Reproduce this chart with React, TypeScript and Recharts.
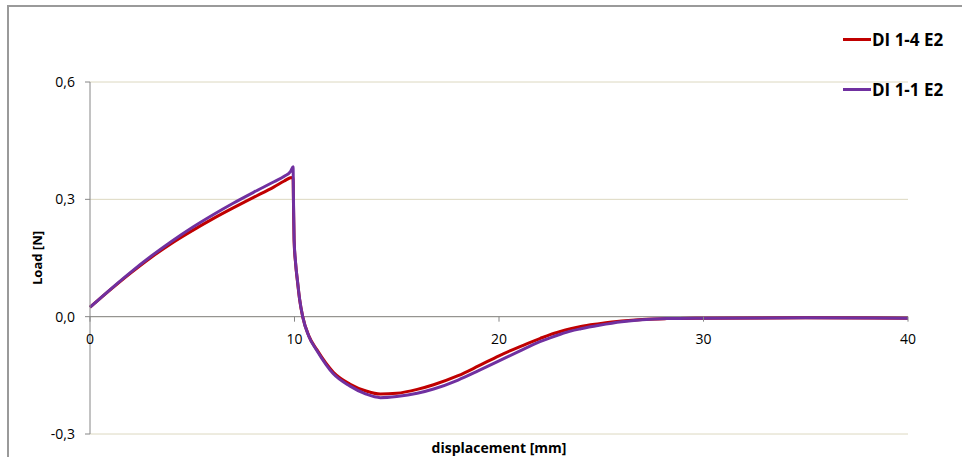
import React from 'react';
import {
  LineChart,
  Line,
  XAxis,
  YAxis,
  CartesianGrid,
  ReferenceLine,
  ReferenceDot,
} from 'recharts';

// displacement [mm]
const disp = [
  0, 1, 2, 3, 4, 5, 6, 7, 8, 9, 9.5, 9.8, 9.93, 9.95, 9.98, 10.05, 10.15, 10.25, 10.4, 10.7,
  11.1, 11.9, 12.7, 13.5, 14.2, 15, 16, 16.8, 18, 19, 20, 21, 22, 22.5, 23, 23.5, 24, 24.9, 26,
  27, 28.2, 30, 35, 40,
];

// DI 1-4 E2
const loadE14 = [
  0.024, 0.069, 0.112, 0.152, 0.188, 0.22, 0.25, 0.278, 0.305, 0.332, 0.347, 0.355, 0.356,
  0.29, 0.195, 0.138, 0.088, 0.044, 0.0, -0.049, -0.085, -0.142, -0.172, -0.19, -0.198, -0.196,
  -0.186, -0.174, -0.151, -0.126, -0.1, -0.077, -0.056, -0.046, -0.038, -0.031, -0.025, -0.018,
  -0.011, -0.007, -0.005, -0.004, -0.003, -0.004,
];

// DI 1-1 E2
const loadE11 = [
  0.024, 0.07, 0.114, 0.155, 0.193, 0.228, 0.26, 0.29, 0.318, 0.345, 0.359, 0.371, 0.383,
  0.3, 0.2, 0.14, 0.09, 0.045, 0.0, -0.05, -0.087, -0.146, -0.177, -0.198, -0.207, -0.204,
  -0.196, -0.185, -0.162, -0.138, -0.113, -0.088, -0.064, -0.054, -0.045, -0.037, -0.031,
  -0.022, -0.013, -0.008, -0.005, -0.004, -0.003, -0.004,
];

const xTicks = [0, 10, 20, 30, 40];
const yTicks = [-0.3, 0, 0.3, 0.6];

const series = [
  { key: 'e14', name: 'DI 1-4 E2', color: '#c00000' },
  { key: 'e11', name: 'DI 1-1 E2', color: '#7030a0' },
];

const data = disp.map((d, i) => ({ d, e14: loadE14[i], e11: loadE11[i] }));

const FONT = '"Open Sans", Lato, sans-serif';

const XTickMark = (props: any) => {
  const { cx, cy, payload } = props;
  return (
    <g>
      <line x1={cx} y1={cy} x2={cx} y2={cy + 5} stroke="#868686" strokeWidth={1} />
      <text x={cx} y={cy + 27} textAnchor="middle" fontSize={14} fill="#000" fontFamily={FONT}>
        {payload}
      </text>
    </g>
  );
};

const LegendBox = () => (
  <div
    style={{
      position: 'absolute',
      left: 843,
      top: 14,
      fontFamily: FONT,
      fontWeight: 700,
      fontSize: 17,
      color: '#000',
    }}
  >
    {series.map((s) => (
      <div key={s.key} style={{ display: 'flex', alignItems: 'center', height: 50 }}>
        <div style={{ width: 28, height: 3, background: s.color, marginRight: 1 }} />
        <span>{s.name}</span>
      </div>
    ))}
  </div>
);

export default function App() {
  return (
    <div
      style={{
        position: 'absolute',
        left: 0,
        top: 0,
        width: 962,
        height: 457,
        overflow: 'hidden',
        background: '#fff',
      }}
    >
      <div
        style={{
          position: 'absolute',
          left: 7,
          top: 5,
          width: 1000,
          height: 500,
          borderTop: '2px solid #9a9a9a',
          borderLeft: '2px solid #9a9a9a',
        }}
      />
      <div style={{ position: 'absolute', left: 0, top: 0 }}>
        <LineChart
          width={962}
          height={457}
          data={data}
          margin={{ top: 82, right: 54, bottom: 0, left: 0 }}
        >
          <CartesianGrid horizontal vertical={false} stroke="#dcd8c0" />
          <XAxis
            dataKey="d"
            type="number"
            domain={[0, 40]}
            ticks={xTicks}
            axisLine={false}
            tickLine={false}
            tick={false}
            height={23}
            label={{
              value: 'displacement [mm]',
              position: 'insideBottom',
              offset: 4,
              style: { fontFamily: FONT, fontWeight: 700, fontSize: 14, fill: '#000' },
            }}
          />
          <YAxis
            type="number"
            domain={[-0.3, 0.6]}
            ticks={yTicks}
            width={90}
            axisLine={{ stroke: '#868686' }}
            tickLine={{ stroke: '#868686' }}
            tickSize={5}
            tickMargin={10}
            tick={{ fontSize: 14, fill: '#000', fontFamily: FONT }}
            tickFormatter={(v: number) => v.toFixed(1).replace('.', ',')}
            label={{
              value: 'Load [N]',
              angle: -90,
              position: 'center',
              dx: -8,
              style: { fontFamily: FONT, fontWeight: 700, fontSize: 13, fill: '#000' },
            }}
          />
          <ReferenceLine y={0} stroke="#868686" strokeWidth={1} />
          {xTicks.map((t) => (
            <ReferenceDot
              key={t}
              x={t}
              y={0}
              r={0}
              shape={(p: any) => <XTickMark {...p} payload={t} />}
            />
          ))}
          {series.map((s) => (
            <Line
              key={s.key}
              dataKey={s.key}
              name={s.name}
              type="monotone"
              stroke={s.color}
              strokeWidth={3}
              dot={false}
              isAnimationActive={false}
            />
          ))}
        </LineChart>
      </div>
      <LegendBox />
    </div>
  );
}
